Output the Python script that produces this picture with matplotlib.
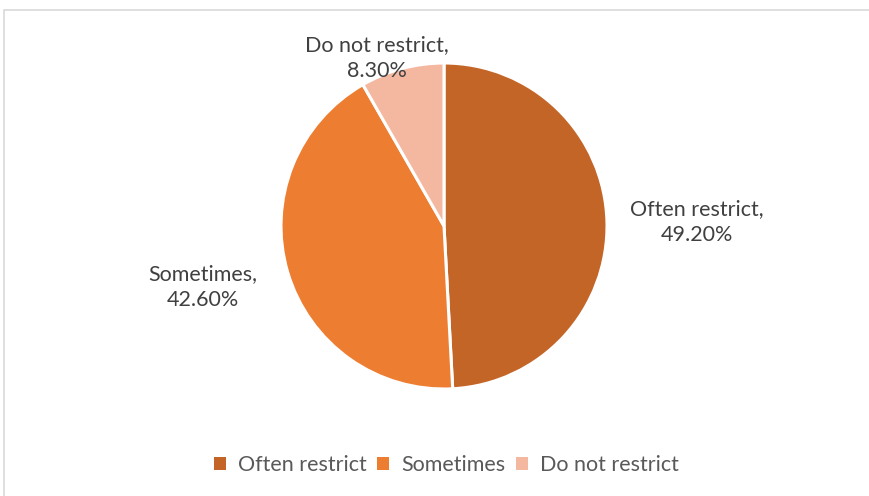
import matplotlib.pyplot as plt
from matplotlib.patches import Rectangle

categories = ['Often restrict', 'Sometimes', 'Do not restrict']
shares = [49.2, 42.6, 8.3]
colors = ['#C46528', '#ED7D31', '#F4B8A0']

plt.rcParams['font.family'] = ['Lato', 'DejaVu Sans']

fig = plt.figure(figsize=(8.7, 4.96), dpi=100)
ax = fig.add_axes([0, 0, 1, 1])

wedges, _ = ax.pie(shares, colors=colors, startangle=90, counterclock=False,
                   center=(444, 270), radius=163,
                   wedgeprops=dict(edgecolor='white', linewidth=2.2))

# pie() resets the limits, so set them afterwards
ax.set_xlim(0, 870)
ax.set_ylim(0, 496)
ax.set_aspect('equal')
ax.axis('off')

# chart frame
ax.add_patch(Rectangle((4, -20), 900, 506, fill=False, edgecolor='#D9D9D9', linewidth=1.2))

label_pos = [(697, 274), (203, 209), (377, 438)]
for name, val, (x, y) in zip(categories, shares, label_pos):
    ax.text(x, y, '%s,\n%.2f%%' % (name, val), ha='center', va='center',
            fontsize=15.5, color='#404040', linespacing=1.35)

handles = [Rectangle((0, 0), 1, 1, facecolor=c, edgecolor='none') for c in colors]
leg = ax.legend(handles, categories, loc='center', bbox_to_anchor=(0.513, 0.062),
                ncol=3, frameon=False, fontsize=15.5, handlelength=0.55, handleheight=0.55,
                handletextpad=0.55, columnspacing=0.5)
for t in leg.get_texts():
    t.set_color('#595959')

fig.savefig('out.png', dpi=100)
